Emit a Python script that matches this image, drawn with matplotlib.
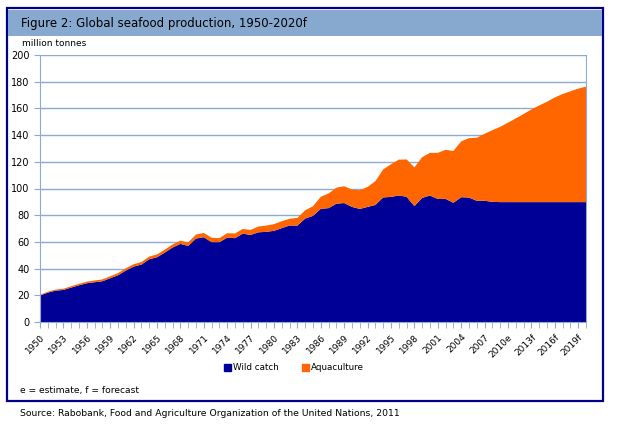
import matplotlib
matplotlib.use("Agg")
import matplotlib.pyplot as plt
from matplotlib.patches import Rectangle, Patch

# data (million tonnes)
years = list(range(1950, 2021))
wild_catch = [
    19.8, 22.0, 23.5, 24.0, 25.8, 27.5, 29.0, 29.8, 30.5, 32.8,
    35.0, 38.5, 41.5, 43.0, 47.0, 48.5, 52.0, 55.8, 58.5, 57.0,
    62.5, 63.5, 59.8, 59.8, 63.2, 62.8, 66.2, 65.2, 67.2, 67.5,
    68.3, 70.3, 72.3, 72.2, 77.5, 79.5, 84.8, 85.3, 88.6, 89.1,
    86.2, 84.7, 86.2, 87.7, 93.3, 93.7, 94.8, 93.8, 86.8, 93.0,
    94.7, 92.2, 92.2, 89.3, 93.5, 93.2, 90.8, 90.8, 90.0, 89.8,
    89.8, 89.8, 89.8, 89.8, 89.8, 89.8, 89.8, 89.8, 89.8, 89.8, 89.8,
]
aquaculture = [
    0.6, 0.7, 0.8, 0.9, 1.0, 1.1, 1.2, 1.3, 1.4, 1.5,
    1.6, 1.7, 1.8, 1.9, 2.0, 2.1, 2.2, 2.3, 2.4, 2.6,
    3.0, 3.2, 3.3, 3.0, 3.3, 3.5, 3.5, 3.8, 4.3, 4.7,
    5.0, 5.2, 5.0, 5.8, 6.2, 7.2, 9.0, 11.0, 12.0, 12.6,
    13.0, 14.0, 15.0, 17.8, 21.0, 24.5, 26.8, 28.0, 29.0, 30.5,
    32.0, 34.5, 36.8, 38.8, 41.8, 44.5, 47.2, 50.2, 53.7, 56.4,
    59.5, 62.7, 66.0, 69.4, 72.4, 75.2, 78.4, 81.0, 83.0, 85.0, 86.5,
]
tick_years = list(range(1950, 2020, 3))
tick_labels = [str(y) for y in range(1950, 2010, 3)] + ["2010e", "2013f", "2016f", "2019f"]

WILD = "#000096"
AQUA = "#FF6600"
GRID = "#8EAAD0"

fig = plt.figure(figsize=(6.22, 4.32), dpi=100)

# outer frame and title bar
fig.patches.append(Rectangle((7 / 622, 1 - 401 / 432), 596 / 622, 393 / 432,
                             transform=fig.transFigure, fill=False,
                             edgecolor="#00008B", linewidth=1.6))
fig.patches.append(Rectangle((8 / 622, 1 - 36 / 432), 594 / 622, 26 / 432,
                             transform=fig.transFigure, facecolor="#88A9CF",
                             edgecolor="none"))
fig.text(21 / 622, 1 - 23 / 432, "Figure 2: Global seafood production, 1950-2020f",
         fontsize=8.5, va="center", ha="left")
fig.text(22 / 622, 1 - 44 / 432, "million tonnes", fontsize=6.5, va="center")

ax = fig.add_axes([40 / 622, 1 - 322 / 432, 546 / 622, 267 / 432])
ax.stackplot(years, wild_catch, aquaculture, colors=[WILD, AQUA], zorder=2)

ax.set_xlim(1950, 2020)
ax.set_ylim(0, 200)
ax.set_yticks(range(0, 201, 20))
ax.yaxis.grid(True, color=GRID, linewidth=1, zorder=0)
ax.set_axisbelow(True)

ax.set_xticks(tick_years)
ax.set_xticklabels(tick_labels, rotation=45, ha="right", rotation_mode="anchor",
                   fontsize=6.5)
ax.set_xticks(years, minor=True)
ax.tick_params(axis="x", which="both", length=4, color=GRID, direction="out")
ax.tick_params(axis="y", length=4, color=GRID, labelsize=7)
for s in ["left", "right", "bottom"]:
    ax.spines[s].set_color(GRID)
ax.spines["top"].set_visible(False)

handles = [Patch(color=WILD, label="Wild catch"), Patch(color=AQUA, label="Aquaculture")]
fig.legend(handles=handles, loc="center", bbox_to_anchor=(294 / 622, 1 - 368 / 432),
           ncol=2, frameon=False, fontsize=6.3, handlelength=0.8, handleheight=0.8,
           handletextpad=0.25, columnspacing=2.6, borderpad=0)

fig.text(20 / 622, 1 - 390 / 432, "e = estimate, f = forecast", fontsize=6.6, va="center")
fig.text(20 / 622, 1 - 413 / 432,
         "Source: Rabobank, Food and Agriculture Organization of the United Nations, 2011",
         fontsize=6.65, va="center")

fig.savefig("out.png", dpi=100)
